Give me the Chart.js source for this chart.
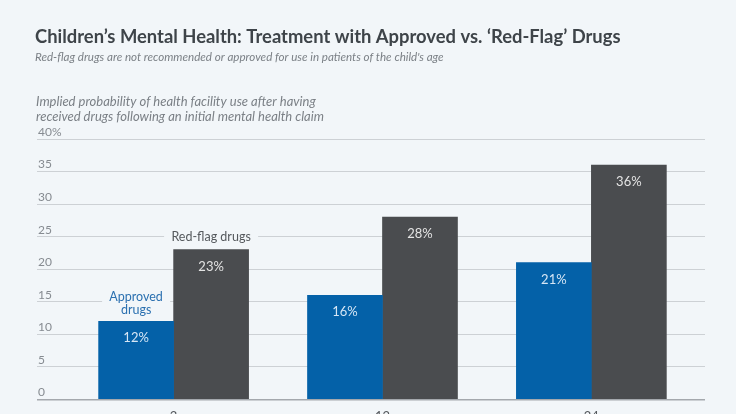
<!DOCTYPE html>
<html>
<head>
<meta charset="utf-8">
<script src="https://cdn.jsdelivr.net/npm/chart.js@4.4.1/dist/chart.umd.min.js"></script>
<style>
  html, body { margin: 0; padding: 0; background: #f2f6f9; overflow: hidden; }
  #wrap { position: relative; width: 736px; height: 440px; }
</style>
</head>
<body>
<div id="wrap"><canvas id="chart"></canvas></div>
<script>
// Chart data
const categories = ["3", "12", "24"];
const approved = [12, 16, 21];
const redFlag = [23, 28, 36];
const yTicks = [0, 5, 10, 15, 20, 25, 30, 35, 40];

const title = "Children\u2019s Mental Health: Treatment with Approved vs. \u2018Red-Flag\u2019 Drugs";
const subtitle = "Red-flag drugs are not recommended or approved for use in patients of the child's age";
const axisTitle = ["Implied probability of health facility use after having",
                   "received drugs following an initial mental health claim"];

const BG = "#f2f6f9";
const FONT = "Lato, 'Open Sans', sans-serif";

// header text (title, subtitle, axis title)
const headerText = {
  id: "headerText",
  afterDraw(chart) {
    const c = chart.ctx;
    c.save();
    c.textBaseline = "middle";
    c.textAlign = "left";
    c.fillStyle = "#3e4449";
    c.font = "bold 18.4px " + FONT;
    c.fillText(title, 35, 37);
    c.fillStyle = "#7b8086";
    c.font = "italic 11.6px " + FONT;
    c.fillText(subtitle, 35, 57);
    c.font = "italic 13px " + FONT;
    c.fillText(axisTitle[0], 36, 102);
    c.fillText(axisTitle[1], 36, 117);
    c.restore();
  }
};

// series labels sitting on the gridlines
const seriesLabels = {
  id: "seriesLabels",
  beforeDatasetsDraw(chart) {
    const c = chart.ctx;
    const y = chart.scales.y;
    const blue = chart.getDatasetMeta(0).data[0];
    const gray = chart.getDatasetMeta(1).data[0];
    c.save();
    c.textAlign = "center";
    c.textBaseline = "middle";
    c.font = "12.5px " + FONT;

    // Red-flag drugs
    let yy = y.getPixelForValue(25);
    c.fillStyle = BG;
    c.fillRect(gray.x - 47, yy - 8, 94, 16);
    c.fillStyle = "#55595d";
    c.fillText("Red-flag drugs", gray.x, yy);

    // Approved drugs
    yy = y.getPixelForValue(15);
    c.fillStyle = BG;
    c.fillRect(blue.x - 34, yy - 12, 68, 24);
    c.fillStyle = "#2b70b0";
    c.fillText("Approved", blue.x, yy - 5);
    c.fillText("drugs", blue.x, yy + 8);
    c.restore();
  }
};

// value labels inside bars
const valueLabels = {
  id: "valueLabels",
  afterDatasetsDraw(chart) {
    const c = chart.ctx;
    c.save();
    c.textAlign = "center";
    c.textBaseline = "middle";
    c.font = "13px " + FONT;
    chart.data.datasets.forEach((ds, i) => {
      c.fillStyle = i === 0 ? "#d6e6f5" : "#e4e4e4";
      chart.getDatasetMeta(i).data.forEach((bar, j) => {
        c.fillText(ds.data[j].y + "%", bar.x, bar.y + 17);
      });
    });
    c.restore();
  }
};

const ctx = document.getElementById("chart").getContext("2d");
const chart = new Chart(ctx, {
  type: "bar",
  data: {
    datasets: [
      {
        label: "Approved drugs",
        data: approved.map((v, i) => ({ x: i, y: v })),
        backgroundColor: "#0461a8",
        barThickness: 75,
      },
      {
        label: "Red-flag drugs",
        data: redFlag.map((v, i) => ({ x: i, y: v })),
        backgroundColor: "#4a4c4f",
        barThickness: 75,
      },
    ],
  },
  options: {
    responsive: true,
    maintainAspectRatio: false,
    animation: false,
    layout: { padding: { left: 35, right: 31, top: 139, bottom: 5 } },
    plugins: {
      legend: { display: false },
      tooltip: { enabled: false },
    },
    scales: {
      x: {
        type: "linear",
        offset: false,
        min: -0.654,
        max: 2.544,
        grid: { display: false, drawTicks: false },
        border: { display: false },
        ticks: {
          stepSize: 1,
          includeBounds: false,
          padding: 10,
          color: "#55595d",
          font: { family: FONT, size: 13 },
          callback: (v) => (Number.isInteger(v) ? categories[v] : ""),
        },
      },
      y: {
        min: yTicks[0],
        max: yTicks[yTicks.length - 1],
        grid: {
          drawTicks: false,
          color: (c) => (c.tick && c.tick.value === 0 ? "#a4a8ad" : "#cdd1d5"),
          lineWidth: (c) => (c.tick && c.tick.value === 0 ? 1.5 : 1),
        },
        border: { display: false },
        ticks: {
          stepSize: 5,
          mirror: true,
          padding: 1,
          labelOffset: -7,
          color: "#868b91",
          font: { family: FONT, size: 12 },
          callback: (v) => (v === 40 ? "40%" : v),
        },
      },
    },
  },
  plugins: [headerText, seriesLabels, valueLabels],
});
</script>
</body>
</html>
